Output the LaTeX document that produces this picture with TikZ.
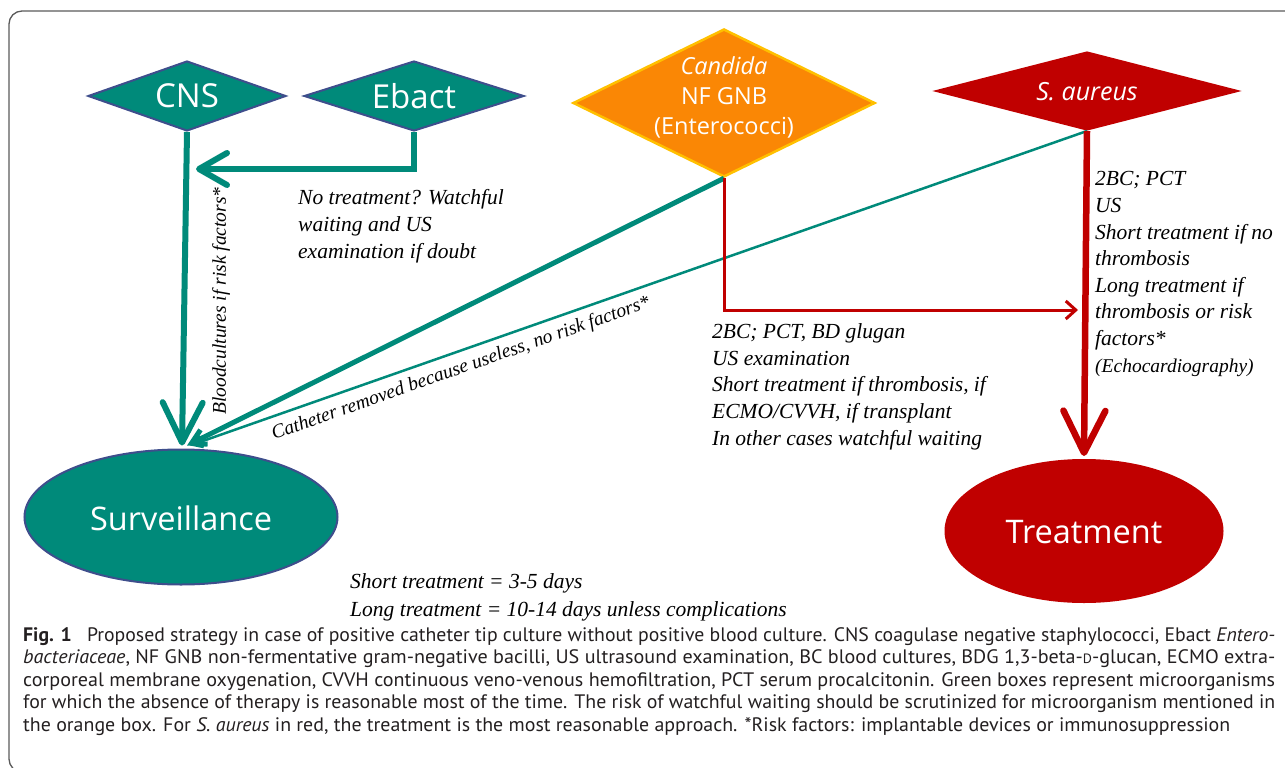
\documentclass[tikz,border=0pt]{standalone}
\usepackage{fontspec}
\usepackage{graphicx}
\setmainfont{Liberation Serif}
\newfontfamily\diafont{Open Sans}
\newfontfamily\capfont{PT Sans}
\usetikzlibrary{shapes.geometric,arrows.meta,calc}
\definecolor{mteal}{RGB}{0,138,122}
\definecolor{mblue}{RGB}{62,78,140}
\definecolor{morange}{RGB}{250,135,5}
\definecolor{mgold}{RGB}{255,192,0}
\definecolor{mred}{RGB}{192,0,0}
\definecolor{mframe}{RGB}{90,90,90}
\definecolor{captxt}{RGB}{35,31,32}
\newcommand\capline[2]{\resizebox{#1}{\height}{#2}}
\begin{document}
\begin{tikzpicture}[x=1pt,y=-1pt,
  dia/.style={diamond, inner sep=0pt, line width=2pt},
  diatxt/.style={text=white, align=center, inner sep=0pt},
  ell/.style={ellipse, inner sep=0pt, line width=2pt},
  note/.style={font=\fontsize{21.5}{26.6}\selectfont\itshape, align=left, anchor=north west, inner sep=0pt},
  rot/.style={font=\fontsize{19.5}{22}\selectfont\itshape, inner sep=0pt},
  capt/.style={font=\capfont\fontsize{19.5}{22}\selectfont, text=captxt, anchor=base west, inner sep=0pt},
  tealline/.style={draw=mteal},
  redline/.style={draw=mred}]
\useasboundingbox (0,0) rectangle (1285,768);
\clip (0,0) rectangle (1285,768);
\draw[mframe, line width=1.3pt, rounded corners=13pt] (9,11) rectangle (1320,772);

% shapes
\node[dia, fill=mteal, draw=mblue, minimum width=198pt, minimum height=70pt] (cns) at (187,96) {};
\node[diatxt, font=\diafont\fontsize{33}{36}\selectfont] (cnst) at (187,96) {CNS};
\node[dia, fill=mteal, draw=mblue, minimum width=220pt, minimum height=70pt] (ebact) at (414,96) {};
\node[diatxt, font=\diafont\fontsize{33}{36}\selectfont] (ebactt) at (414,96) {Ebact};
\node[dia, fill=morange, draw=mgold, line width=2.5pt, minimum width=302pt, minimum height=148pt] (cand) at (724,103) {};
\node[diatxt, font=\diafont\fontsize{23.5}{30}\selectfont] (candt) at (724,97) {\textit{Candida}\\NF GNB\\(Enterococci)};
\node[dia, fill=mred, draw=mred, minimum width=302pt, minimum height=78pt] (sa) at (1087,91) {};
\node[diatxt, font=\diafont\fontsize{25}{30}\selectfont\itshape] (sat) at (1087,92) {S. aureus};

\node[ell, fill=mteal, draw=mblue, minimum width=313pt, minimum height=135pt] (surv) at (181,517) {};
\node[diatxt, font=\diafont\fontsize{32.5}{36}\selectfont] (survt) at (181,518) {Surveillance};
\node[ell, fill=mred, draw=mred, minimum width=277pt, minimum height=142pt] (treat) at (1084,531) {};
\node[diatxt, font=\diafont\fontsize{32.5}{36}\selectfont] (treatt) at (1084,532) {Treatment};

% connector end points
\coordinate (survtop) at ($(surv.north)+(1,-3)$);
\coordinate (survtopb) at ($(surv.north)+(6,-3)$);
\coordinate (survtopc) at ($(surv.north)+(9,-3)$);
\coordinate (ebtip) at (196,169);
\coordinate (redtip) at (1078,310);
\coordinate (treattop) at ($(treat.north)+(0,-3)$);

% connectors
\draw[tealline, line width=2.5pt, -{Straight Barb[length=10pt,width=12pt]}] (sa.south) -- (survtopc);
\draw[tealline, line width=5pt, -{Straight Barb[length=14pt,width=16pt]}] (cand.south) -- (survtopb);
\draw[tealline, line width=6pt, -{Straight Barb[length=40pt,width=40pt,round]}] (cns.south) -- (survtop);
\draw[tealline, line width=6pt, -{Straight Barb[length=28pt,width=32pt,round]}] (ebact.south) |- (ebtip);
\draw[redline, line width=3pt, -{Straight Barb[length=10pt,width=18pt]}] (cand.south) |- (redtip);
\draw[redline, line width=6.5pt, -{Straight Barb[length=42pt,width=42pt,round]}] (sa.south) -- (treattop);

% texts
\node[note] (t1) at (298,189.5) {No treatment? Watchful\\waiting and US\\examination if doubt};
\node[note] (t2) at (1095,171.5) {2BC; PCT\\US\\Short treatment if no\\thrombosis\\Long treatment if\\thrombosis or risk\\factors*\\{\fontsize{19.5}{26}\selectfont(Echocardiography)}};
\node[note] (t3) at (712,323.5) {2BC; PCT, BD glugan\\US examination\\Short treatment if thrombosis, if\\ECMO/CVVH, if transplant\\In other cases watchful waiting};
\node[note, font=\fontsize{21.5}{28}\selectfont\itshape] (t4) at (350,573.5) {Short treatment = 3-5 days\\Long treatment = 10-14 days unless complications};
\node[rot, rotate=90] (t5) at (221,301) {Bloodcultures if risk factors*};
\node[rot, rotate=19.4] (t6) at (461,369) {Catheter removed because useless, no risk factors*};

% caption
\node[capt] (c1) at (23,641) {\capline{1252pt}{\textbf{Fig. 1}\hspace{0.5em} Proposed strategy in case of positive catheter tip culture without positive blood culture. CNS coagulase negative staphylococci, Ebact \textit{Entero-}}};
\node[capt] (c2) at (23,663.6) {\capline{1252pt}{\textit{bacteriaceae}, NF GNB non-fermentative gram-negative bacilli, US ultrasound examination, BC blood cultures, BDG 1,3-beta-{\fontsize{13.5}{13.5}\selectfont D}-glucan, ECMO extra-}};
\node[capt] (c3) at (23,686.2) {\capline{1252pt}{corporeal membrane oxygenation, CVVH continuous veno-venous hemofiltration, PCT serum procalcitonin. Green boxes represent microorganisms}};
\node[capt] (c4) at (23,708.8) {\capline{1252pt}{for which the absence of therapy is reasonable most of the time. The risk of watchful waiting should be scrutinized for microorganism mentioned in}};
\node[capt] (c5) at (23,731.4) {\capline{1207pt}{the orange box. For \textit{S. aureus} in red, the treatment is the most reasonable approach. *Risk factors: implantable devices or immunosuppression}};
\end{tikzpicture}
\end{document}
